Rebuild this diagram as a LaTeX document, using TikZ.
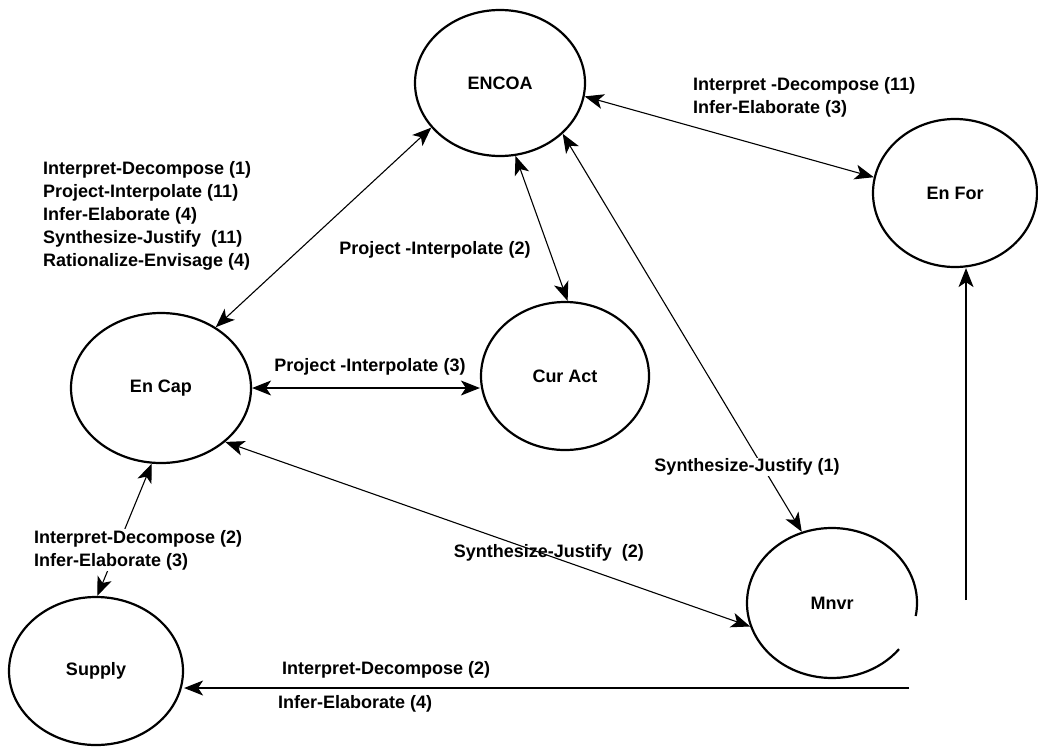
\documentclass[tikz,border=0pt]{standalone}
\usepackage{fontspec}
\setmainfont{Liberation Sans}
\usetikzlibrary{shapes.geometric,arrows.meta}
\begin{document}
\begin{tikzpicture}[x=1pt,y=-1pt,
  state/.style={ellipse, draw, line width=2.2pt, inner sep=0pt, font=\fontsize{18}{22}\selectfont\bfseries},
  lbl/.style={inner sep=1pt, align=left, font=\fontsize{18}{23}\selectfont\bfseries},
  conn/.style={line width=1.1pt, -{Stealth[length=19pt,width=15pt,inset=5pt]}},
  biconn/.style={line width=1.1pt, {Stealth[length=19pt,width=15pt,inset=5pt]}-{Stealth[length=19pt,width=15pt,inset=5pt]}}]
\useasboundingbox (0,0) rectangle (1038,747);
\node[state, minimum width=170pt, minimum height=146pt] (encoa) at (500,83) {ENCOA};
\node[state, minimum width=164pt, minimum height=148pt] (enfor) at (955,193) {En For};
\node[state, minimum width=168pt, minimum height=148pt] (curact) at (565,376) {Cur Act};
\node[state, minimum width=180pt, minimum height=150pt] (encap) at (161,388) {En Cap};
\node[state, minimum width=174pt, minimum height=148pt] (supply) at (96,671) {Supply};
\node[state, draw=none, minimum width=170pt, minimum height=150pt] (mnvr) at (832,603) {Mnvr};
\draw[line width=2.2pt] ([shift={(-10:85pt and 75pt)}]mnvr.center) arc[start angle=-10, end angle=322, x radius=85pt, y radius=75pt];
\coordinate (mv) at (966,600);
\coordinate (mh) at (909,688);
\draw[biconn] (encoa.213) -- (encap.48);
\draw[biconn] (encoa.-9) -- (enfor.169);
\draw[biconn] (encoa.-78) -- (curact.88);
\draw[biconn] (encoa.-39) -- (mnvr.113);
\draw[biconn] (encap.east) -- (encap.east -| curact.west);
\draw[biconn] (encap.-40) -- (mnvr.196);
\draw[biconn] (supply.89) -- (encap.263);
\draw[conn] (mv) -- (mv |- enfor.south);
\draw[conn] (mh) -- (mh -| supply.east);
\node[lbl, anchor=west] (l1) at (42,216) {Interpret-Decompose (1)\\Project-Interpolate (11)\\Infer-Elaborate (4)\\Synthesize-Justify~~(11)\\Rationalize-Envisage (4)};
\node[lbl, anchor=west] (l2) at (692,97) {Interpret -Decompose (11)\\Infer-Elaborate (3)};
\node[lbl] (l3) at (435,250) {Project -Interpolate (2)};
\node[lbl] (l4) at (370,367) {Project -Interpolate (3)};
\node[lbl, fill=white] (l5) at (747,467) {Synthesize-Justify (1)};
\node[lbl, anchor=east] (l6) at (645,553) {Synthesize-Justify~~(2)};
\node[lbl, fill=white, anchor=west] (l7) at (33,550) {Interpret-Decompose (2)\\Infer-Elaborate (3)};
\node[lbl, anchor=west] (l8) at (281,670) {Interpret-Decompose (2)};
\node[lbl, anchor=west] (l9) at (277,704) {Infer-Elaborate (4)};
\end{tikzpicture}
\end{document}
